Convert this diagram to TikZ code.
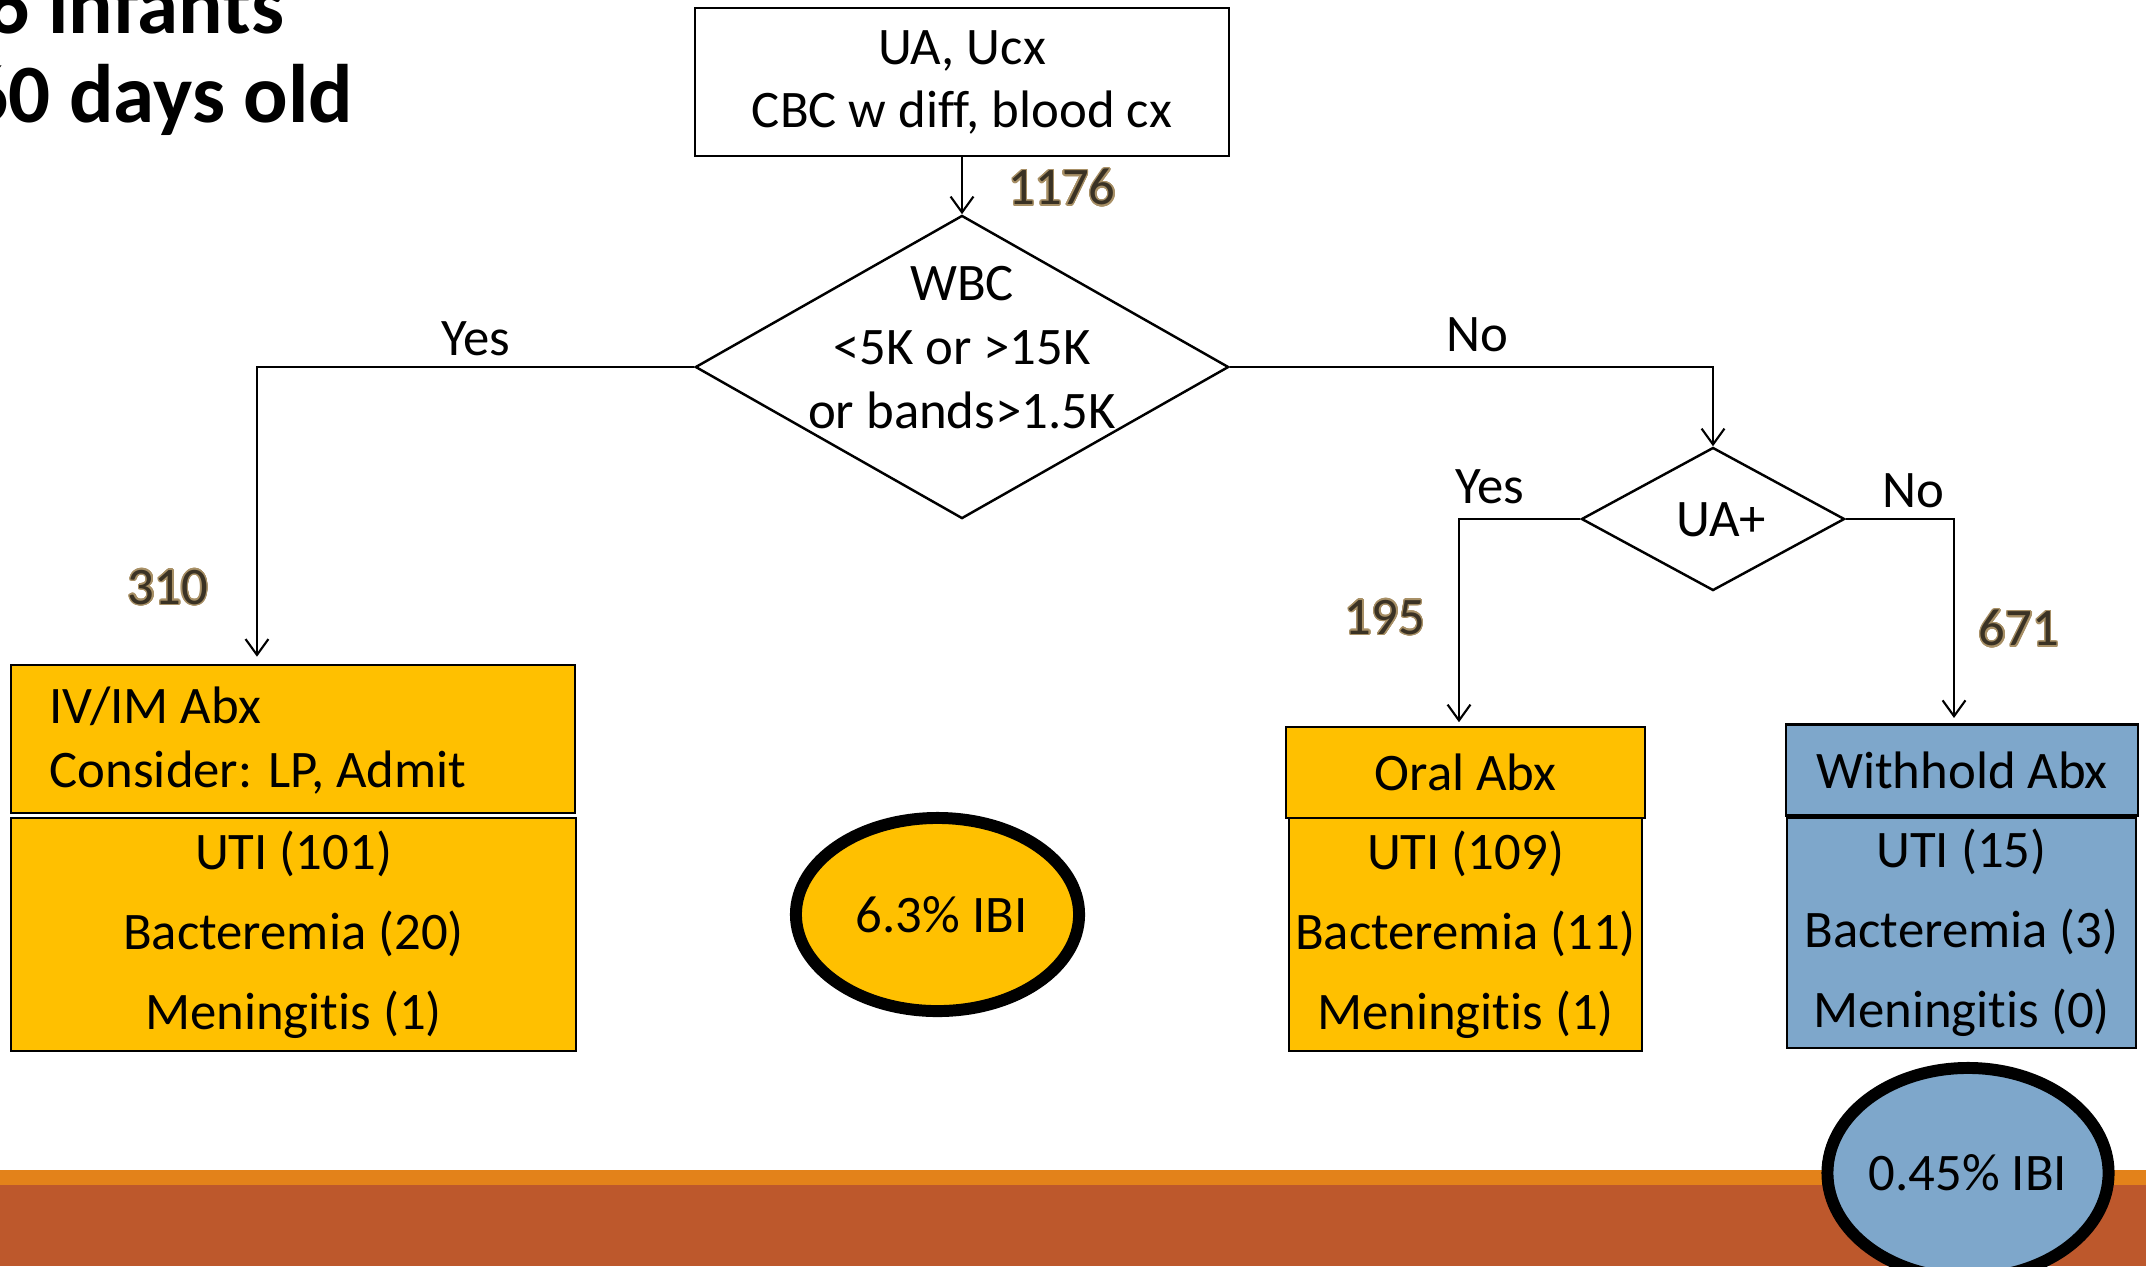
\documentclass[tikz,border=0pt]{standalone}
\usepackage{fontspec}
\setmainfont{Carlito}[Ligatures={NoCommon,NoContextual,NoRequired},RawFeature={-liga;-clig;-calt;-dlig}]
\usepackage[copies]{contour}
\contourlength{0.4pt}
\contournumber{24}
\usetikzlibrary{arrows.meta,shapes.geometric,calc}
\definecolor{boxyellow}{HTML}{FFC000}
\definecolor{boxblue}{HTML}{7EA7CB}
\definecolor{numdark}{HTML}{3A3224}
\definecolor{numtan}{HTML}{A89066}
\definecolor{barorange}{HTML}{E3821A}
\definecolor{barrust}{HTML}{BD582C}
\newcommand{\numtext}[1]{\contour{numtan}{\textcolor{numdark}{#1}}}
\begin{document}
\begin{tikzpicture}[x=0.01cm,y=-0.01cm,
  every node/.style={inner sep=0pt, font=\fontsize{15}{18.2}\selectfont},
  plainbox/.style={draw=black, line width=0.7pt, fill=white},
  ybox/.style={draw=black, line width=0.7pt, fill=boxyellow},
  bbox/.style={draw=black, line width=0.7pt, fill=boxblue},
  listtext/.style={align=center, font=\fontsize{15}{22.8}\selectfont},
  decision/.style={draw=black, line width=0.7pt, diamond, fill=white},
  ibi/.style={draw=black, ellipse, line width=3.4pt},
  conn/.style={draw=black, line width=0.6pt, -{Straight Barb[length=4.5pt,width=6.5pt]}}
]
\useasboundingbox (0,0) rectangle (2146,1266);
\clip (0,0) rectangle (2146,1266);

% bottom bars
\fill[barorange] (0,1170) rectangle (2146,1186);
\fill[barrust] (0,1185) rectangle (2146,1266);

% title
\node[anchor=base east, font=\fontsize{23.6}{28}\selectfont\bfseries] (title1) at (285,33) {6 infants};
\node[anchor=base east, font=\fontsize{23.6}{28}\selectfont\bfseries] (title2) at (354,122) {60 days old};

% top box
\node[plainbox, minimum width=5.34cm, minimum height=1.48cm, align=center,
      font=\fontsize{15}{17.9}\selectfont] (start) at (962,82) {UA, Ucx\\CBC w diff, blood cx};

% WBC decision
\node[decision, minimum width=5.33cm, minimum height=3.03cm] (wbc) at (962,367) {};
\node[align=center] (wbctext) at (962,348) {WBC\\<5K or >15K\\or bands>1.5K};

% UA+ decision
\node[decision, minimum width=2.63cm, minimum height=1.43cm] (ua) at (1713,519) {};
\node (uatext) at (1721,520) {UA+};

% left boxes
\node[ybox, minimum width=5.64cm, minimum height=1.48cm] (ivtop) at (293,739) {};
\node[anchor=west, align=left] (ivtext) at (49,741) {IV/IM Abx\\Consider: LP, Admit};
\node[ybox, listtext, minimum width=5.65cm, minimum height=2.33cm]
     (ivlow) at (293.5,934.5) {UTI (101)\\Bacteremia (20)\\Meningitis (1)};

% oral boxes
\node[ybox, minimum width=3.59cm, minimum height=0.91cm] (oraltop) at (1465.5,772.5) {Oral Abx};
\node[ybox, listtext, minimum width=3.53cm, minimum height=2.33cm]
     (orallow) at (1465.5,934.5) {UTI (109)\\Bacteremia (11)\\Meningitis (1)};

% withhold boxes
\node[bbox, minimum width=3.52cm, minimum height=0.91cm] (whtop) at (1962,770) {Withhold Abx};
\node[bbox, listtext, minimum width=3.49cm, minimum height=2.30cm]
     (whlow) at (1961.5,933) {UTI (15)\\Bacteremia (3)\\Meningitis (0)};

% IBI ellipses
\node[ibi, fill=boxyellow, minimum width=2.83cm, minimum height=1.93cm] (ibi1) at (937.5,914.5) {\hspace*{0.08cm}6.3\% IBI};
\node[ibi, fill=boxblue, minimum width=2.81cm, minimum height=2.10cm] (ibi2) at (1968,1173) {0.45\% IBI};

% connectors
\draw[conn] (start.south) -- (wbc.north);
\draw[conn, shorten >=2pt] (wbc.west) -| ([xshift=-0.36cm]ivtop.north);
\draw[conn] (wbc.east) -| (ua.north);
\draw[conn, shorten >=1pt] (ua.west) -| ([xshift=-0.065cm]oraltop.north);
\draw[conn, shorten >=1.5pt] (ua.east) -| ([xshift=-0.08cm]whtop.north);

% labels
\node (n1176) at (1062,188) {\numtext{1176}};
\node (yes1) at (476,339) {Yes};
\node (no1) at (1477,335) {No};
\node (n310) at (168,588) {\numtext{310}};
\node (yes2) at (1490,487) {Yes};
\node (no2) at (1913,491) {No};
\node (n195) at (1385,618) {\numtext{195}};
\node (n671) at (2019,629) {\numtext{671}};
\end{tikzpicture}
\end{document}
